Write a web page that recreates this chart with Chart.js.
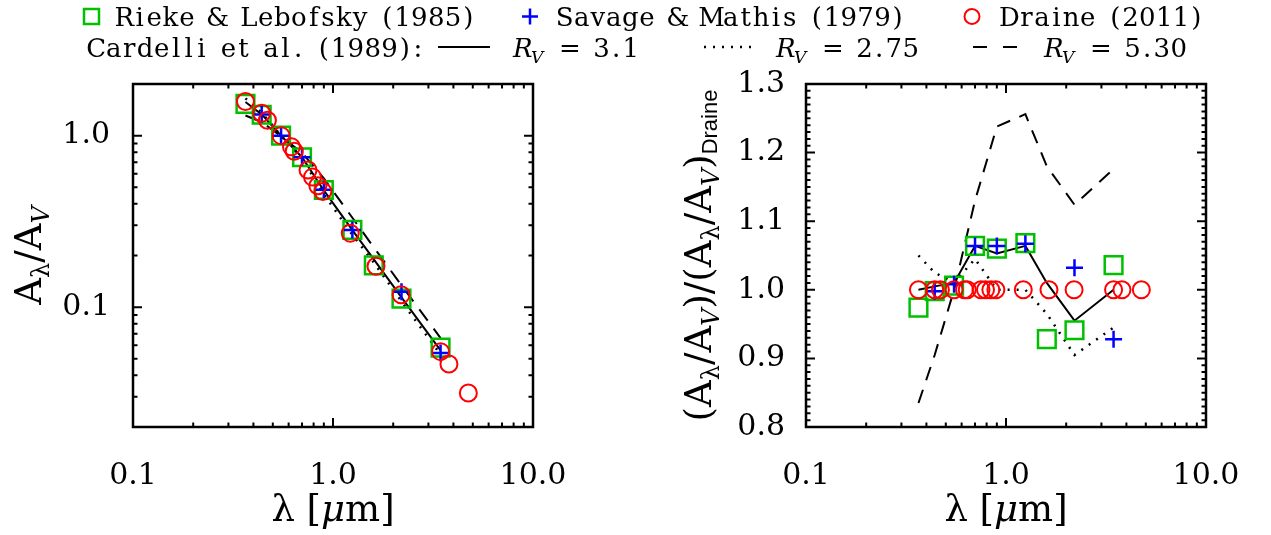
<!DOCTYPE html>
<html>
<head>
<meta charset="utf-8">
<script src="https://cdn.jsdelivr.net/npm/chart.js@4.4.1/dist/chart.umd.min.js"></script>
<style>
  html, body { margin: 0; padding: 0; background: #fff; }
  #wrap { position: relative; width: 1271px; height: 535px; }
  #wrap canvas { position: absolute; left: 0; top: 0; }
</style>
</head>
<body>
<div id="wrap">
  <canvas id="extChart" width="1271" height="535"></canvas>
  <canvas id="ratioChart" width="1271" height="535"></canvas>
</div>
<script>
// Rieke & Lebofsky (1985)
const rlWave = [0.365, 0.44, 0.55, 0.70, 0.90, 1.25, 1.60, 2.20, 3.45];
const rlExt = [1.531, 1.324, 1.000, 0.748, 0.482, 0.282, 0.175, 0.112, 0.058];
const rlRatio = [0.974, 0.998, 1.006, 1.064, 1.060, 1.068, 0.928, 0.941, 1.036];

// Savage & Mathis (1979)
const smWave = [0.44, 0.55, 0.70, 0.90, 1.25, 2.20, 3.45];
const smExt = [1.33, 1.00, 0.748, 0.484, 0.282, 0.123, 0.054];
const smRatio = [0.998, 1.008, 1.064, 1.064, 1.067, 1.032, 0.928];

// Draine (2011)
const drWave = [0.365, 0.44, 0.47, 0.55, 0.62, 0.64, 0.75, 0.79, 0.84, 0.89, 1.22, 1.64, 2.19, 3.45, 3.80, 4.75];
const drExt = [1.58, 1.35, 1.23, 1.00, 0.86, 0.81, 0.63, 0.573, 0.51, 0.472, 0.27, 0.173, 0.118, 0.055, 0.0466, 0.0316];
const drRatio = [1, 1, 1, 1, 1, 1, 1, 1, 1, 1, 1, 1, 1, 1, 1, 1];

// Cardelli et al. (1989) curves
const ccmWave = [0.365, 0.44, 0.55, 0.70, 0.90, 1.25, 1.60, 2.20, 3.45];
const ccm31 = [1.57, 1.33, 1.00, 0.748, 0.479, 0.281, 0.190, 0.114, 0.056];
const ccm275 = [1.65, 1.36, 1.00, 0.735, 0.455, 0.264, 0.182, 0.108, 0.053];
const ccm530 = [1.31, 1.20, 0.994, 0.794, 0.563, 0.332, 0.223, 0.134, 0.066];
const ccm31Ratio = [1.000, 1.005, 1.010, 1.064, 1.053, 1.064, 1.010, 0.955, 1.000];
const ccm275Ratio = [1.050, 1.025, 1.010, 1.045, 1.000, 1.000, 0.965, 0.905, 0.945];
const ccm530Ratio = [0.835, 0.905, 1.000, 1.130, 1.238, 1.256, 1.180, 1.124, 1.176];

// axis ticks
const xTickValues = [0.1, 1, 10];
const xTickLabels = ['0.1', '1.0', '10.0'];
const yTickValuesExt = [0.1, 1];
const yTickLabelsExt = ['0.1', '1.0'];
const yTickValuesRatio = [0.8, 0.9, 1.0, 1.1, 1.2, 1.3];
const yTickLabelsRatio = ['0.8', '0.9', '1.0', '1.1', '1.2', '1.3'];

const GREEN = '#00c000';
const BLUE = '#0000ff';
const RED = '#ff0000';
const SERIF = '"DejaVu Serif"';

const pts = (xs, ys) => xs.map((x, i) => ({ x, y: ys[i] }));

function logMinors(lo, hi) {
    const out = [];
    for (let d = lo; d < hi * 0.999; d *= 10) {
        for (let k = 2; k <= 9; k++) {
            if (k * d <= hi * 1.0001) out.push(k * d);
        }
    }
    return out;
}

function linMinors(lo, hi, step) {
    const out = [];
    const n = Math.round((hi - lo) / step);
    for (let i = 0; i <= n; i++) out.push(lo + i * step);
    return out;
}

function drawRich(ctx, parts, x, y, vertical) {
    let total = 0;
    parts.forEach(p => { ctx.font = p.font; p.w = ctx.measureText(p.text).width; total += p.w; });
    ctx.save();
    ctx.translate(x, y);
    if (vertical) ctx.rotate(-Math.PI / 2);
    ctx.textBaseline = 'alphabetic';
    ctx.textAlign = 'left';
    ctx.fillStyle = '#000';
    let pos = -total / 2;
    parts.forEach(p => {
        ctx.font = p.font;
        ctx.fillText(p.text, pos, p.dy || 0);
        pos += p.w;
    });
    ctx.restore();
}

// legend font is semi-monospaced, so each glyph gets a widened cell
function drawLegendText(ctx, text, x, y) {
    let pos = x;
    for (const ch of text) {
        const w = ctx.measureText(ch).width;
        const adv = 0.51 * w + 8.4;
        ctx.fillText(ch, pos + (adv - w) / 2, y);
        pos += adv;
    }
    return pos;
}

function drawRv(ctx, x, y, value) {
    ctx.font = 'italic 26px ' + SERIF;
    ctx.fillText('R', x, y);
    ctx.font = 'italic 17px ' + SERIF;
    ctx.fillText('V', x + 18, y + 6);
    ctx.font = '26px ' + SERIF;
    ctx.fillText('=', x + 46, y);
    drawLegendText(ctx, value, x + 80, y);
}

function drawLegend(ctx) {
    ctx.save();
    ctx.fillStyle = '#000';
    ctx.textBaseline = 'alphabetic';
    ctx.textAlign = 'left';

    // row 1: data sets
    ctx.lineWidth = 2.5;
    ctx.strokeStyle = GREEN;
    ctx.strokeRect(84, 9, 15, 15);
    ctx.strokeStyle = BLUE;
    ctx.beginPath();
    ctx.moveTo(522, 16.5); ctx.lineTo(538, 16.5);
    ctx.moveTo(530, 8.5); ctx.lineTo(530, 24.5);
    ctx.stroke();
    ctx.strokeStyle = RED;
    ctx.lineWidth = 2;
    ctx.beginPath();
    ctx.arc(972, 16.5, 7.5, 0, Math.PI * 2);
    ctx.stroke();

    ctx.font = '26px ' + SERIF;
    drawLegendText(ctx, 'Rieke & Lebofsky (1985)', 115, 26);
    drawLegendText(ctx, 'Savage & Mathis (1979)', 556, 26);
    drawLegendText(ctx, 'Draine (2011)', 1000, 26);

    // row 2: Cardelli curves
    drawLegendText(ctx, 'Cardelli et al. (1989):', 87, 57);
    ctx.strokeStyle = '#000';
    ctx.lineWidth = 2;
    ctx.beginPath();
    ctx.moveTo(438, 47); ctx.lineTo(490, 47);
    ctx.stroke();
    ctx.setLineDash([2, 7]);
    ctx.lineWidth = 2.5;
    ctx.beginPath();
    ctx.moveTo(704, 47); ctx.lineTo(758, 47);
    ctx.stroke();
    ctx.setLineDash([14, 16]);
    ctx.lineWidth = 2;
    ctx.beginPath();
    ctx.moveTo(973, 47); ctx.lineTo(1018, 47);
    ctx.stroke();
    ctx.setLineDash([]);

    drawRv(ctx, 513, 57, '3.1');
    drawRv(ctx, 776, 57, '2.75');
    drawRv(ctx, 1044, 57, '5.30');
    ctx.restore();
}

function framePlugin(cfg) {
    return {
        id: 'idlFrame',
        afterDatasetsDraw(chart) {
            const { ctx, chartArea: a } = chart;
            const xs = chart.scales.x;
            const ys = chart.scales.y;
            ctx.save();
            ctx.strokeStyle = '#000';
            ctx.lineWidth = 2;
            ctx.beginPath();
            const seg = (x1, y1, x2, y2) => { ctx.moveTo(x1, y1); ctx.lineTo(x2, y2); };
            const xTicks = (vals, len) => vals.forEach(v => {
                const p = xs.getPixelForValue(v);
                seg(p, a.bottom, p, a.bottom - len);
                seg(p, a.top, p, a.top + len);
            });
            const yTicks = (vals, len) => vals.forEach(v => {
                const p = ys.getPixelForValue(v);
                seg(a.left, p, a.left + len, p);
                seg(a.right, p, a.right - len, p);
            });
            xTicks(cfg.xMajor, 9);
            xTicks(cfg.xMinor, 4.5);
            yTicks(cfg.yMajor, 9);
            yTicks(cfg.yMinor, 4.5);
            ctx.stroke();
            ctx.lineWidth = 2.5;
            ctx.strokeRect(a.left, a.top, a.right - a.left, a.bottom - a.top);
            ctx.restore();
            cfg.extras(ctx, a);
        }
    };
}

function markerSets(rl, sm, dr) {
    return [
        {
            label: 'Draine (2011)', data: dr, order: 1,
            pointStyle: 'circle', pointRadius: 8.5, pointBorderWidth: 2,
            pointBorderColor: RED, pointBackgroundColor: 'rgba(0,0,0,0)'
        },
        {
            label: 'Savage & Mathis (1979)', data: sm, order: 2,
            pointStyle: 'cross', pointRadius: 8.5, pointBorderWidth: 2.5,
            pointBorderColor: BLUE, pointBackgroundColor: 'rgba(0,0,0,0)'
        },
        {
            label: 'Rieke & Lebofsky (1985)', data: rl, order: 3,
            pointStyle: 'rect', pointRadius: 12.5, pointBorderWidth: 2.5,
            pointBorderColor: GREEN, pointBackgroundColor: 'rgba(0,0,0,0)'
        }
    ];
}

function curveSets(c31, c275, c530) {
    const base = { showLine: true, pointRadius: 0, borderColor: '#000', tension: 0, fill: false };
    return [
        Object.assign({ label: 'R_V = 3.1', data: c31, borderWidth: 2, order: 4 }, base),
        Object.assign({ label: 'R_V = 2.75', data: c275, borderWidth: 2.5, borderDash: [2, 7], order: 5 }, base),
        Object.assign({ label: 'R_V = 5.30', data: c530, borderWidth: 2, borderDash: [14, 10], order: 6 }, base)
    ];
}

function chartOptions(yAxis, yWidth, rightPad) {
    return {
        responsive: false,
        animation: false,
        devicePixelRatio: 1,
        events: [],
        layout: { padding: { top: 84, right: rightPad, left: 0, bottom: 0 } },
        plugins: { legend: { display: false }, tooltip: { enabled: false } },
        scales: {
            x: {
                type: 'logarithmic', min: 0.1, max: 10, position: 'bottom',
                grid: { display: false }, border: { display: false },
                afterFit: s => { s.height = 108; },
                afterBuildTicks: s => { s.ticks = xTickValues.map(v => ({ value: v })); },
                ticks: {
                    autoSkip: false, maxRotation: 0, padding: 23, color: '#000',
                    font: { family: 'DejaVu Serif', size: 30 },
                    callback: (v, i) => xTickLabels[i]
                }
            },
            y: Object.assign({
                position: 'left',
                grid: { display: false }, border: { display: false },
                afterFit: s => { s.width = yWidth; },
            }, yAxis)
        }
    };
}

const lamTitle = [
    { text: 'λ [', font: '37px ' + SERIF },
    { text: 'μ', font: 'italic 37px ' + SERIF },
    { text: 'm]', font: '37px ' + SERIF }
];

// left panel: A_lambda / A_V
new Chart(document.getElementById('extChart'), {
    type: 'scatter',
    data: {
        datasets: markerSets(pts(rlWave, rlExt), pts(smWave, smExt), pts(drWave, drExt))
            .concat(curveSets(pts(ccmWave, ccm31), pts(ccmWave, ccm275), pts(ccmWave, ccm530)))
    },
    options: chartOptions({
        type: 'logarithmic', min: 0.02, max: 2,
        afterBuildTicks: s => { s.ticks = yTickValuesExt.map(v => ({ value: v })); },
        ticks: {
            autoSkip: false, padding: 15, color: '#000',
            font: { family: 'DejaVu Serif', size: 30 },
            callback: (v, i) => yTickLabelsExt[i]
        }
    }, 133, 1271 - 533),
    plugins: [framePlugin({
        xMajor: xTickValues, xMinor: logMinors(0.1, 10),
        yMajor: yTickValuesExt, yMinor: logMinors(0.01, 2).filter(v => v >= 0.02),
        extras(ctx, a) {
            drawLegend(ctx);
            drawRich(ctx, [
                { text: 'A', font: '37px ' + SERIF },
                { text: 'λ', font: '24px ' + SERIF, dy: 8 },
                { text: '/A', font: '37px ' + SERIF },
                { text: 'V', font: 'italic 24px ' + SERIF, dy: 8 }
            ], 41, (a.top + a.bottom) / 2, true);
            drawRich(ctx, lamTitle, (a.left + a.right) / 2, 521, false);
        }
    })]
});

// right panel: ratio to Draine (2011)
new Chart(document.getElementById('ratioChart'), {
    type: 'scatter',
    data: {
        datasets: markerSets(pts(rlWave, rlRatio), pts(smWave, smRatio), pts(drWave, drRatio))
            .concat(curveSets(pts(ccmWave, ccm31Ratio), pts(ccmWave, ccm275Ratio), pts(ccmWave, ccm530Ratio)))
    },
    options: chartOptions({
        type: 'linear', min: 0.8, max: 1.3,
        afterBuildTicks: s => { s.ticks = yTickValuesRatio.map(v => ({ value: v })); },
        ticks: {
            autoSkip: false, padding: 13, color: '#000',
            font: { family: 'DejaVu Serif', size: 30 },
            callback: (v, i) => yTickLabelsRatio[i]
        }
    }, 806, 1271 - 1206),
    plugins: [framePlugin({
        xMajor: xTickValues, xMinor: logMinors(0.1, 10),
        yMajor: yTickValuesRatio, yMinor: linMinors(0.8, 1.3, 0.01),
        extras(ctx, a) {
            const sub = '24px ' + SERIF;
            const subIt = 'italic 24px ' + SERIF;
            const big = '37px ' + SERIF;
            drawRich(ctx, [
                { text: '(A', font: big },
                { text: 'λ', font: sub, dy: 8 },
                { text: '/A', font: big },
                { text: 'V', font: subIt, dy: 8 },
                { text: ')/(A', font: big },
                { text: 'λ', font: sub, dy: 8 },
                { text: '/A', font: big },
                { text: 'V', font: subIt, dy: 8 },
                { text: ')', font: big },
                { text: 'Draine', font: '22px "Liberation Sans"', dy: 6 }
            ], 711, (a.top + a.bottom) / 2, true);
            drawRich(ctx, lamTitle, (a.left + a.right) / 2, 521, false);
        }
    })]
});
</script>
</body>
</html>
